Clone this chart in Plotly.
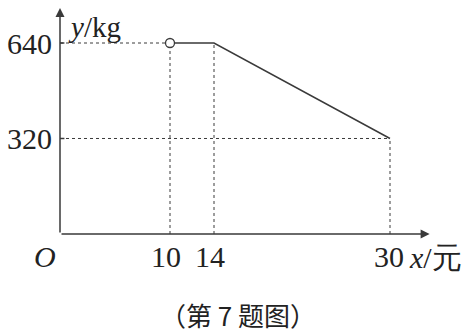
import plotly.graph_objects as go

# data
price = [10, 14, 30]          # x / 元
sales = [640, 640, 320]       # y / kg
xticks = [10, 14, 30]
xtick_labels = ["10", "14", "30"]
yticks = [640, 320]
ytick_labels = ["640", "320"]

C = "#3a3a3a"
SERIF = "Liberation Serif, Times New Roman, serif"
CJK = "Noto Sans CJK SC"

fig = go.Figure()

# dotted guide lines
guide = dict(color=C, width=1, dash="3px,3px")
fig.add_trace(go.Scatter(x=[0, price[0]], y=[sales[0], sales[0]], mode="lines", line=guide))
for xv, yv in zip(price, sales):
    fig.add_trace(go.Scatter(x=[xv, xv], y=[0, yv], mode="lines", line=guide))
fig.add_trace(go.Scatter(x=[0, price[2]], y=[sales[2], sales[2]], mode="lines", line=guide))

# function graph
fig.add_trace(go.Scatter(x=price, y=sales, mode="lines", line=dict(color=C, width=1.5)))
fig.add_trace(go.Scatter(x=[price[0]], y=[sales[0]], mode="markers",
                         marker=dict(size=9, color="white", line=dict(color=C, width=1.3))))

# small solid ticks on y axis
for yv in yticks:
    fig.add_trace(go.Scatter(x=[0, 0.4], y=[yv, yv], mode="lines", line=dict(color=C, width=1.5)))

ann = []
# axes with arrows
ann.append(dict(x=33.6, y=0, ax=0, ay=0, xref="x", yref="y", axref="x", ayref="y",
                showarrow=True, arrowhead=2, arrowsize=1.2, arrowwidth=1.5, arrowcolor=C, text=""))
ann.append(dict(x=0, y=757, ax=0, ay=0, xref="x", yref="y", axref="x", ayref="y",
                showarrow=True, arrowhead=2, arrowsize=1.2, arrowwidth=1.5, arrowcolor=C, text=""))

for yv, t in zip(yticks, ytick_labels):
    ann.append(dict(x=0, y=yv, text=t, showarrow=False, xanchor="right", yanchor="middle",
                    xshift=-6, font=dict(family=SERIF, size=30, color="#222")))
for xv, t in zip(xticks, xtick_labels):
    ann.append(dict(x=xv, y=0, text=t, showarrow=False, xanchor="center", yanchor="top",
                    xshift=-4 if xv != 30 else -1, yshift=-4, font=dict(family=SERIF, size=30, color="#222")))
ann.append(dict(x=0, y=0, text="<i>O</i>", showarrow=False, xanchor="right", yanchor="top",
                xshift=-2, yshift=-4, font=dict(family=SERIF, size=30, color="#222")))
ann.append(dict(x=30, y=0, text="<i>x</i>/元", showarrow=False, xanchor="left", yanchor="top",
                xshift=17, yshift=-5, font=dict(family=SERIF, size=30, color="#222")))
ann.append(dict(x=0, y=757, text="<i>y</i>/kg", showarrow=False, xanchor="left", yanchor="top",
                xshift=6, yshift=-1, font=dict(family=SERIF, size=29, color="#222")))
ann.append(dict(x=0.503, y=0.06, xref="paper", yref="paper", text="（第 7 题图）", showarrow=False,
                xanchor="center", yanchor="middle", font=dict(family=CJK, size=26, color="#222")))

fig.update_layout(
    width=473, height=335, margin=dict(l=0, r=0, t=0, b=0),
    paper_bgcolor="white", plot_bgcolor="white", showlegend=False,
    xaxis=dict(visible=False, range=[-60/11, 413/11]),
    yaxis=dict(visible=False, range=[-338.5, 784.1]),
    annotations=ann,
)

fig.write_html("out.html")
